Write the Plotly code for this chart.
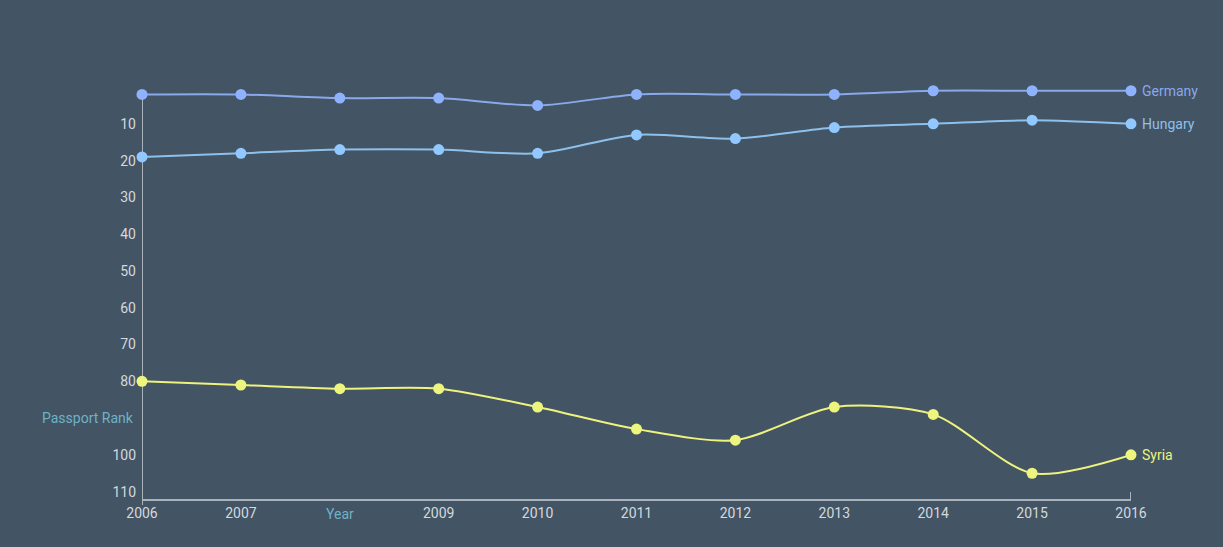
import plotly.graph_objects as go

# passport rank by year (lower = better)
years = [2006, 2007, 2008, 2009, 2010, 2011, 2012, 2013, 2014, 2015, 2016]
germany = [2, 2, 3, 3, 5, 2, 2, 2, 1, 1, 1]
hungary = [19, 18, 17, 17, 18, 13, 14, 11, 10, 9, 10]
syria = [80, 81, 82, 82, 87, 93, 96, 87, 89, 105, 100]

rank_ticks = [10, 20, 30, 40, 50, 60, 70, 80, 100, 110]
year_ticks = [2006, 2007, 2009, 2010, 2011, 2012, 2013, 2014, 2015, 2016]

bg = '#435464'
axis_col = '#aab3bc'
tick_col = '#d3d9de'
title_col = '#6fb2c6'

series = [
    ('Germany', germany, '#8aa8ec', '#8fb2ff'),
    ('Hungary', hungary, '#8ec0ec', '#90c8ff'),
    ('Syria', syria, '#eef27e', '#eef57e'),
]

fig = go.Figure()
for name, vals, lcol, mcol in series:
    fig.add_trace(go.Scatter(
        x=years, y=vals, name=name, mode='lines+markers',
        line=dict(color=lcol, width=2, shape='spline', smoothing=0.8),
        marker=dict(color=mcol, size=11),
        cliponaxis=False, showlegend=False))
    fig.add_annotation(x=years[-1], y=vals[-1], text=name, showarrow=False,
                       xanchor='left', xshift=9, font=dict(color=lcol, size=14))

# axis titles sit in place of a tick label
fig.add_annotation(x=0, xref='paper', y=90, yref='y', text='Passport Rank', showarrow=False,
                   xanchor='right', xshift=-6, font=dict(color=title_col, size=14))
fig.add_annotation(x=2008, xref='x', y=0, yref='paper', text='Year', showarrow=False,
                   yanchor='top', yshift=-5, font=dict(color=title_col, size=14))

# y axis line runs from rank 1 down, plus little end caps on both axes
caps = [
    dict(xref='x', yref='y', x0=years[0], x1=years[0], y0=1, y1=112),
    dict(xref='x', yref='paper', x0=years[0], x1=years[0], ysizemode='pixel', yanchor=0, y0=0, y1=-6),
    dict(xref='x', yref='paper', x0=years[-1], x1=years[-1], ysizemode='pixel', yanchor=0, y0=0, y1=7),
    dict(xref='x', yref='paper', xsizemode='pixel', xanchor=years[0], x0=0, x1=-6, y0=0, y1=0),
    dict(xref='x', yref='y', xsizemode='pixel', xanchor=years[0], x0=0, x1=-6, y0=1, y1=1),
]
for c in caps:
    fig.add_shape(type='line', line=dict(color=axis_col, width=2), layer='below', **c)

fig.update_xaxes(range=[2006, 2016], tickvals=year_ticks, showgrid=False, zeroline=False,
                 showline=True, linecolor=axis_col, linewidth=2,
                 tickfont=dict(color=tick_col, size=14))
fig.update_yaxes(range=[112, 0.25], tickvals=rank_ticks, showgrid=False, zeroline=False,
                 showline=False,
                 tickfont=dict(color=tick_col, size=14), ticklabelstandoff=5)

fig.update_layout(width=1223, height=547, paper_bgcolor=bg, plot_bgcolor=bg,
                  margin=dict(l=142, r=92, t=88, b=48),
                  font=dict(family='Roboto, sans-serif'))

# drop the page's default body margin so the figure fills the window
fig.write_html('out.html', config={'displayModeBar': False},
               post_script="document.body.style.margin='0';")
